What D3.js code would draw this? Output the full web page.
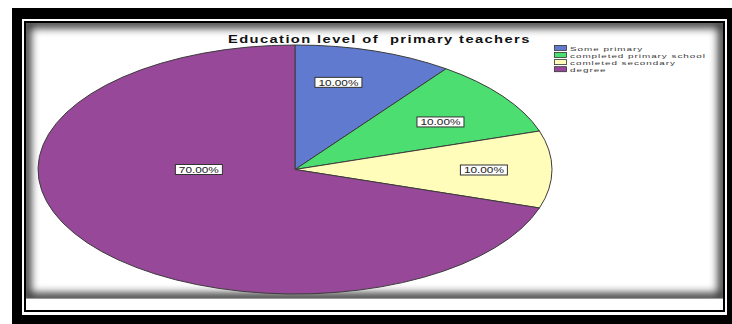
<!DOCTYPE html>
<html>
<head>
<meta charset="utf-8">
<script src="https://cdn.jsdelivr.net/npm/d3@7"></script>
<style>
  html, body { margin: 0; padding: 0; background: #fff; }
  svg { display: block; font-family: "Liberation Sans", Arial, sans-serif; }
</style>
</head>
<body>
<svg id="chart" width="732" height="324"></svg>
<script>
// ---- data ----
const categories = ["Some primary", "completed primary school", "comleted secondary", "degree"];
const percents = [10, 10, 10, 70];
const sliceColors = ["#607AD0", "#4CDE70", "#FFFDB9", "#984898"];
const titleText = "Education level of  primary teachers";

// ---- layout ----
const W = 732, H = 324;
const cx = 295, cy = 169.5, rx = 257, ry = 124.5;
// label anchor, as a fraction of the horizontal / vertical radius
const labelAnchors = [[0.169, -0.700], [0.566, -0.382], [0.735, 0.004], [-0.374, 0.0]];
const fmt = v => d3.format(".2f")(v) + "%";

const svg = d3.select("#chart");
const defs = svg.append("defs");

// ---- framed panel ----
svg.append("rect").attr("x", 12).attr("y", 8).attr("width", 720).attr("height", 316).attr("fill", "#000");
svg.append("rect").attr("x", 22).attr("y", 19).attr("width", 705).attr("height", 296).attr("fill", "#fff");
svg.append("rect").attr("x", 24).attr("y", 21).attr("width", 701).attr("height", 291).attr("fill", "#000");
svg.append("rect").attr("x", 26).attr("y", 23).attr("width", 697).attr("height", 287).attr("fill", "#fff");

const panel = { x: 26, y: 23, w: 697, h: 275 };
defs.append("clipPath").attr("id", "panelClip")
  .append("rect").attr("x", panel.x).attr("y", panel.y).attr("width", panel.w).attr("height", panel.h);
defs.append("filter").attr("id", "soft").attr("x", "-5%").attr("y", "-5%").attr("width", "110%").attr("height", "110%")
  .append("feGaussianBlur").attr("stdDeviation", 4);

svg.append("g").attr("clip-path", "url(#panelClip)")
  .append("rect")
  .attr("x", panel.x).attr("y", panel.y).attr("width", panel.w).attr("height", panel.h)
  .attr("fill", "none").attr("stroke", "#000").attr("stroke-width", 10)
  .attr("opacity", 0.8).attr("filter", "url(#soft)");
svg.append("line").attr("x1", panel.x).attr("x2", panel.x + panel.w)
  .attr("y1", panel.y + panel.h + 0.5).attr("y2", panel.y + panel.h + 0.5)
  .attr("stroke", "#9a9a9a").attr("stroke-width", 1);

// text widened to a target width: spaced letters plus a mild horizontal stretch
function stretchedText(parent, str, x, y, size, weight, spacing, targetW, anchor, fill) {
  const g = parent.append("g");
  const t = g.append("text").text(str)
    .style("white-space", "pre")
    .attr("letter-spacing", spacing)
    .attr("font-size", size).attr("font-weight", weight).attr("fill", fill);
  const w = t.node().getBBox().width;
  const s = targetW / w;
  const x0 = anchor === "middle" ? x - targetW / 2 : x;
  g.attr("transform", `translate(${x0},${y}) scale(${s},1)`);
  return s;
}

// ---- title ----
stretchedText(svg, titleText, 379.5, 42.5, 10.5, "bold", 1, 303, "middle", "#111");

// ---- pie ----
const pie = d3.pie().sort(null).value(d => d)(percents);
const arc = d3.arc().innerRadius(0).outerRadius(ry);
const color = d3.scaleOrdinal().domain(categories).range(sliceColors);

const gPie = svg.append("g").attr("transform", `translate(${cx},${cy})`);
gPie.selectAll("path.slice").data(pie).join("path")
  .attr("class", "slice")
  .attr("d", arc)
  .attr("transform", `scale(${rx / ry},1)`)
  .attr("fill", (d, i) => color(categories[i]))
  .attr("stroke", "#3c3c3c")
  .attr("stroke-width", 1)
  .attr("vector-effect", "non-scaling-stroke");

// ---- value labels ----
const boxW = 47, boxH = 10;
pie.forEach((d, i) => {
  const lx = cx + labelAnchors[i][0] * rx;
  const ly = cy + labelAnchors[i][1] * ry;
  svg.append("rect")
    .attr("x", lx - boxW / 2).attr("y", ly - boxH / 2)
    .attr("width", boxW).attr("height", boxH)
    .attr("fill", "#fff").attr("stroke", "#333").attr("stroke-width", 1);
  svg.append("text")
    .attr("x", lx).attr("y", ly + 3.3)
    .attr("text-anchor", "middle")
    .attr("font-size", 8.5)
    .attr("textLength", 40).attr("lengthAdjust", "spacingAndGlyphs")
    .attr("fill", "#222")
    .text(fmt(d.data));
});

// ---- legend ----
const legend = svg.append("g");
const legBase0 = 50.6, legStep = 7.1, legFont = 6.1, legSpacing = 0.6;
categories.forEach((c, i) => {
  const y = legBase0 + i * legStep - 5.2;
  legend.append("rect")
    .attr("x", 554.5).attr("y", y).attr("width", 12).attr("height", 5)
    .attr("fill", color(c)).attr("stroke", "#333").attr("stroke-width", 0.8);
});
// common horizontal stretch taken from the longest entry
const probe = svg.append("text").attr("font-size", legFont).attr("letter-spacing", legSpacing).text(categories[1]);
const legScale = 136 / probe.node().getBBox().width;
probe.remove();
categories.forEach((c, i) => {
  const y = legBase0 + i * legStep;
  legend.append("g").attr("transform", `translate(570,${y}) scale(${legScale},1)`)
    .append("text").attr("font-size", legFont).attr("letter-spacing", legSpacing)
    .attr("fill", "#3a3a3a").text(c);
});
</script>
</body>
</html>
